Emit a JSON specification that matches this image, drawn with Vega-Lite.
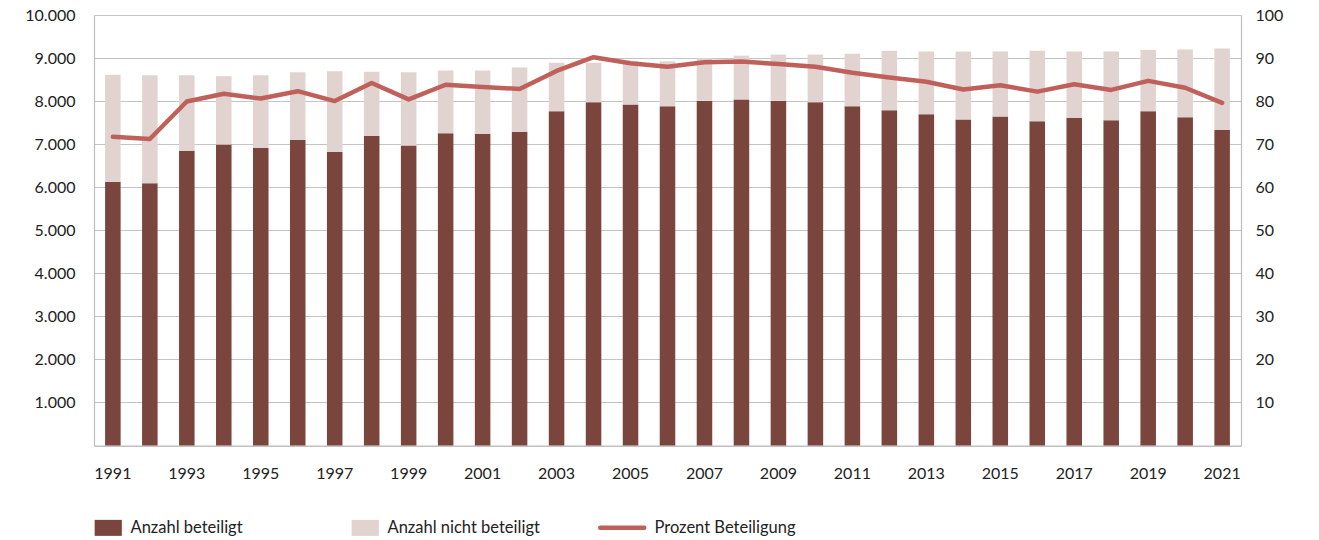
{
  "$schema": "https://vega.github.io/schema/vega-lite/v6.json",
  "autosize": {"type": "none"},
  "padding": {"left": 94, "top": 15, "right": 78, "bottom": 94.5},
  "width": 1147,
  "height": 430.5,
  "background": "white",
  "data": {
    "values": [
      {"Jahr": 1991, "Anzahl beteiligt": 6120, "Anzahl nicht beteiligt": 2490, "Prozent": 71.7},
      {"Jahr": 1992, "Anzahl beteiligt": 6090, "Anzahl nicht beteiligt": 2510, "Prozent": 71.2},
      {"Jahr": 1993, "Anzahl beteiligt": 6845, "Anzahl nicht beteiligt": 1755, "Prozent": 79.9},
      {"Jahr": 1994, "Anzahl beteiligt": 6990, "Anzahl nicht beteiligt": 1585, "Prozent": 81.7},
      {"Jahr": 1995, "Anzahl beteiligt": 6915, "Anzahl nicht beteiligt": 1685, "Prozent": 80.6},
      {"Jahr": 1996, "Anzahl beteiligt": 7100, "Anzahl nicht beteiligt": 1570, "Prozent": 82.3},
      {"Jahr": 1997, "Anzahl beteiligt": 6820, "Anzahl nicht beteiligt": 1875, "Prozent": 80.0},
      {"Jahr": 1998, "Anzahl beteiligt": 7190, "Anzahl nicht beteiligt": 1490, "Prozent": 84.2},
      {"Jahr": 1999, "Anzahl beteiligt": 6970, "Anzahl nicht beteiligt": 1700, "Prozent": 80.4},
      {"Jahr": 2000, "Anzahl beteiligt": 7255, "Anzahl nicht beteiligt": 1455, "Prozent": 83.8},
      {"Jahr": 2001, "Anzahl beteiligt": 7240, "Anzahl nicht beteiligt": 1470, "Prozent": 83.3},
      {"Jahr": 2002, "Anzahl beteiligt": 7290, "Anzahl nicht beteiligt": 1490, "Prozent": 82.8},
      {"Jahr": 2003, "Anzahl beteiligt": 7765, "Anzahl nicht beteiligt": 1125, "Prozent": 87.0},
      {"Jahr": 2004, "Anzahl beteiligt": 7975, "Anzahl nicht beteiligt": 915, "Prozent": 90.2},
      {"Jahr": 2005, "Anzahl beteiligt": 7920, "Anzahl nicht beteiligt": 1000, "Prozent": 88.8},
      {"Jahr": 2006, "Anzahl beteiligt": 7880, "Anzahl nicht beteiligt": 1045, "Prozent": 88.0},
      {"Jahr": 2007, "Anzahl beteiligt": 8005, "Anzahl nicht beteiligt": 995, "Prozent": 89.0},
      {"Jahr": 2008, "Anzahl beteiligt": 8040, "Anzahl nicht beteiligt": 1015, "Prozent": 89.2},
      {"Jahr": 2009, "Anzahl beteiligt": 8005, "Anzahl nicht beteiligt": 1075, "Prozent": 88.6},
      {"Jahr": 2010, "Anzahl beteiligt": 7975, "Anzahl nicht beteiligt": 1105, "Prozent": 88.0},
      {"Jahr": 2011, "Anzahl beteiligt": 7880, "Anzahl nicht beteiligt": 1220, "Prozent": 86.6},
      {"Jahr": 2012, "Anzahl beteiligt": 7785, "Anzahl nicht beteiligt": 1385, "Prozent": 85.5},
      {"Jahr": 2013, "Anzahl beteiligt": 7695, "Anzahl nicht beteiligt": 1455, "Prozent": 84.5},
      {"Jahr": 2014, "Anzahl beteiligt": 7570, "Anzahl nicht beteiligt": 1580, "Prozent": 82.7},
      {"Jahr": 2015, "Anzahl beteiligt": 7640, "Anzahl nicht beteiligt": 1510, "Prozent": 83.7},
      {"Jahr": 2016, "Anzahl beteiligt": 7530, "Anzahl nicht beteiligt": 1640, "Prozent": 82.2},
      {"Jahr": 2017, "Anzahl beteiligt": 7615, "Anzahl nicht beteiligt": 1535, "Prozent": 83.9},
      {"Jahr": 2018, "Anzahl beteiligt": 7555, "Anzahl nicht beteiligt": 1595, "Prozent": 82.6},
      {"Jahr": 2019, "Anzahl beteiligt": 7765, "Anzahl nicht beteiligt": 1425, "Prozent": 84.7},
      {"Jahr": 2020, "Anzahl beteiligt": 7625, "Anzahl nicht beteiligt": 1575, "Prozent": 83.1},
      {"Jahr": 2021, "Anzahl beteiligt": 7335, "Anzahl nicht beteiligt": 1885, "Prozent": 79.6}
    ]
  },
  "encoding": {
    "x": {
      "field": "Jahr",
      "type": "ordinal",
      "scale": {"paddingInner": 0.58, "paddingOuter": 0.3},
      "axis": {
        "title": null,
        "labelAngle": 0,
        "labelPadding": 20,
        "labelExpr": "datum.value % 2 == 1 ? datum.label : ''",
        "grid": false
      }
    }
  },
  "layer": [
    {
      "transform": [
        {"fold": ["Anzahl beteiligt", "Anzahl nicht beteiligt"], "as": ["Reihe", "Anzahl"]}
      ],
      "mark": {"type": "bar"},
      "encoding": {
        "y": {
          "field": "Anzahl",
          "type": "quantitative",
          "stack": "zero",
          "scale": {"domain": [0, 10000], "nice": false},
          "axis": {
            "title": null,
            "orient": "left",
            "values": [0, 1000, 2000, 3000, 4000, 5000, 6000, 7000, 8000, 9000, 10000],
            "grid": true,
            "labelPadding": 19,
            "labelExpr": "datum.value == 0 ? '' : replace(format(datum.value, ','), ',', '.')"
          }
        },
        "color": {
          "field": "Reihe",
          "type": "nominal",
          "scale": {
            "domain": ["Anzahl beteiligt", "Anzahl nicht beteiligt", "Prozent Beteiligung"],
            "range": ["#7a453d", "#e0d3d0", "#c0605a"]
          },
          "legend": {
            "title": null,
            "orient": "none",
            "legendX": 6,
            "legendY": 504,
            "direction": "horizontal",
            "columns": 3,
            "gridAlign": "all",
            "columnPadding": 51,
            "symbolSize": 256,
            "labelOffset": 14,
            "labelFont": "Lato",
            "labelFontSize": 16.5,
            "labelColor": "#222222",
            "labelLimit": 300,
            "encode": {
              "symbols": {
                "update": {
                  "shape": {"signal": "datum.value == 'Prozent Beteiligung' ? 'M-2.75,0H2.75' : 'M-1.7,-1H1.7V1H-1.7Z'"},
                  "fill": {"signal": "datum.value == 'Prozent Beteiligung' ? 'transparent' : scale('color', datum.value)"},
                  "stroke": {"signal": "scale('color', datum.value)"},
                  "strokeWidth": {"signal": "datum.value == 'Prozent Beteiligung' ? 4.5 : 0"},
                  "strokeCap": {"value": "round"},
                  "opacity": {"value": 1},
                  "fillOpacity": {"value": 1},
                  "strokeOpacity": {"value": 1}
                }
              },
              "labels": {
                "update": {
                  "dx": {"signal": "datum.value == 'Prozent Beteiligung' ? 10 : 0"}
                }
              }
            }
          }
        },
        "order": {"field": "Reihe", "sort": "ascending"}
      }
    },
    {
      "mark": {"type": "line", "strokeWidth": 4.5, "strokeJoin": "round", "strokeCap": "round"},
      "encoding": {
        "y": {
          "field": "Prozent",
          "type": "quantitative",
          "scale": {"domain": [0, 100], "nice": false},
          "axis": {
            "title": null,
            "orient": "right",
            "values": [0, 10, 20, 30, 40, 50, 60, 70, 80, 90, 100],
            "grid": false,
            "labelPadding": 14,
            "labelExpr": "datum.value == 0 ? '' : datum.label"
          }
        },
        "color": {"datum": "Prozent Beteiligung", "type": "nominal"}
      }
    }
  ],
  "resolve": {"scale": {"y": "independent"}},
  "config": {
    "view": {"stroke": null},
    "axis": {
      "labelFont": "Lato",
      "labelFontSize": 16,
      "labelColor": "#222222",
      "domainColor": "#bdbdbd",
      "domainWidth": 1.2,
      "gridColor": "#c4c4c4",
      "gridWidth": 1.2,
      "ticks": false
    }
  }
}
